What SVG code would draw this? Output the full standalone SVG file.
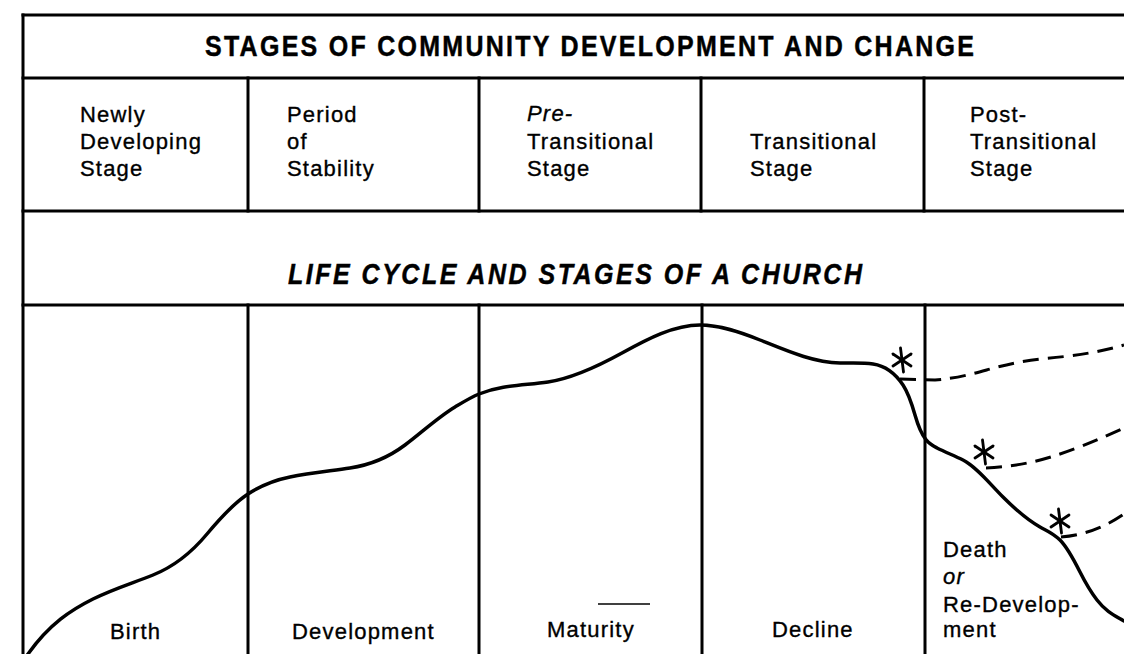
<svg xmlns="http://www.w3.org/2000/svg" width="1124" height="654" viewBox="0 0 1124 654">
<style>
.frame{stroke:#000;stroke-width:3;fill:none;stroke-linecap:square}
.t{font-family:"Liberation Sans",Arial,Helvetica,sans-serif;font-size:22px;letter-spacing:1.2px;fill:#000;stroke:#000;stroke-width:0.35}
.it{font-style:italic}
.title{font-family:"Liberation Sans",Arial,Helvetica,sans-serif;font-size:25px;font-weight:bold;fill:#000;stroke:#000;stroke-width:0.4}
.curve{stroke:#000;stroke-width:3.5;fill:none;stroke-linecap:round;stroke-linejoin:round}
.dash{stroke:#000;stroke-width:3;fill:none;stroke-dasharray:16 9}
.ast{stroke:#000;stroke-width:2.8;stroke-linecap:round}
</style>
<defs>
<g id="ast" class="ast">
<line x1="-1.5" y1="-12" x2="1.5" y2="12"/>
<line x1="-9" y1="-6" x2="9" y2="6"/>
<line x1="-9" y1="6" x2="9" y2="-6"/>
</g>
</defs>
<rect width="1124" height="654" fill="#fff"/>
<g id="frame" class="frame">
<line x1="23" y1="15" x2="23" y2="654"/>
<line x1="23" y1="15" x2="1124" y2="15"/>
<line x1="23" y1="78" x2="1124" y2="78"/>
<line x1="23" y1="211" x2="1124" y2="211"/>
<line x1="23" y1="305" x2="1124" y2="305"/>
<line x1="248" y1="78" x2="248" y2="211"/>
<line x1="479" y1="78" x2="479" y2="211"/>
<line x1="701" y1="78" x2="701" y2="211"/>
<line x1="924" y1="78" x2="924" y2="211"/>
<line x1="248" y1="305" x2="248" y2="654"/>
<line x1="479" y1="305" x2="479" y2="654"/>
<line x1="702" y1="305" x2="702" y2="654"/>
<line x1="925" y1="305" x2="925" y2="654"/>
</g>
<g id="title-community">
<text class="title" transform="matrix(1 0 0 1.15 0 56)" x="205" y="0" textLength="769" lengthAdjust="spacing">STAGES OF COMMUNITY DEVELOPMENT AND CHANGE</text>
</g>
<g id="stage-newly"><text class="t" x="80" y="122">Newly</text><text class="t" x="80" y="149">Developing</text><text class="t" x="80" y="176">Stage</text></g>
<g id="stage-stability"><text class="t" x="287" y="122">Period</text><text class="t" x="287" y="149">of</text><text class="t" x="287" y="176">Stability</text></g>
<g id="stage-pre"><text class="t it" x="527" y="121">Pre-</text><text class="t" x="527" y="149">Transitional</text><text class="t" x="527" y="176">Stage</text></g>
<g id="stage-trans"><text class="t" x="750" y="149">Transitional</text><text class="t" x="750" y="176">Stage</text></g>
<g id="stage-post"><text class="t" x="970" y="122">Post-</text><text class="t" x="970" y="149">Transitional</text><text class="t" x="970" y="176">Stage</text></g>
<g id="title-church">
<text class="title it" transform="matrix(1 0 0 1.15 0 284)" x="288" y="0" textLength="574" lengthAdjust="spacing">LIFE CYCLE AND STAGES OF A CHURCH</text>
</g>
<g id="phase-birth"><text class="t" x="110" y="639">Birth</text></g>
<g id="phase-development"><text class="t" x="292" y="639">Development</text></g>
<g id="phase-maturity"><text class="t" x="547" y="637">Maturity</text></g>
<g id="phase-decline"><text class="t" x="772" y="637">Decline</text></g>
<g id="phase-death"><text class="t" x="943" y="557">Death</text><text class="t it" x="943" y="584">or</text><text class="t" x="943" y="612">Re-Develop-</text><text class="t" x="943" y="637">ment</text></g>
<g id="connectors">
<path class="curve" d="M 26 657 L 28 654 C 49.7 623.7 71.3 609.8 93 599 C 113 589 133 583 153 575 C 171 567.8 189 555.6 207 534 C 220.7 517.6 234.3 502.9 248 494 C 262 484.9 276 479.8 290 477 C 310 473 330 471 350 468 C 368.3 465.25 386.7 458.75 405 445 C 421.7 432.5 438.3 417 455 407 C 463 402.2 471 397.2 479 394 C 502 384.8 525 385.45 548 382 C 572.7 378.3 597.3 366.6 622 353 C 648 338.7 674 325 700 325 C 720 325 740 332 760 340 C 786.7 350.7 813.3 362.5 840 363 C 851 363.2 862 362.35 873 364 C 883 365.5 893 370 903 385 C 907 391 911 401 915 415 C 922.3 440.7 929.7 444.3 937 448 C 945.7 452.3 954.3 455.7 963 460 C 976.3 466.7 989.7 483.7 1003 497 C 1015.3 509.3 1027.7 520.2 1040 527 C 1046.7 530.7 1053.3 533.3 1060 540 C 1066.7 546.7 1073.3 558.7 1080 572 C 1085.7 583.3 1091.3 592.6 1097 600 C 1106 611.7 1115 615.6 1124 621"/>
<path class="dash" d="M 900 379 L 935 380 C 975 377 995 364 1040 359 C 1075 356 1100 352 1124 345"/>
<path class="dash" d="M 986 468 C 1030 466 1062 456 1124 428"/>
<path class="dash" d="M 1061 537 C 1085 535 1105 527 1124 514"/>
<line x1="598" y1="604" x2="650" y2="604" stroke="#000" stroke-width="1.3"/>
</g>
<g id="markers">
<use href="#ast" x="902" y="360"/>
<use href="#ast" x="984" y="452"/>
<use href="#ast" x="1060" y="521"/>
</g>
</svg>
